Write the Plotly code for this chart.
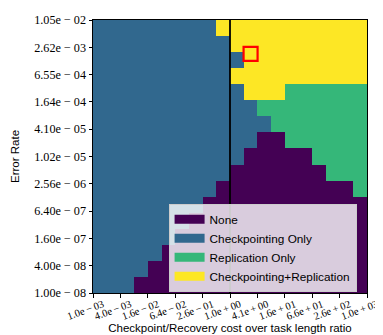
import math
import plotly.graph_objects as go

# ---- data ----
category_names = ["None", "Checkpointing Only", "Replication Only", "Checkpointing+Replication"]
category_colors = ["#440154", "#31688e", "#35b779", "#fde725"]

x_tick_labels = ["1.0e\u2009−\u200903", "4.0e\u2009−\u200903", "1.6e\u2009−\u200902", "6.4e\u2009−\u200902",
                 "2.6e\u2009−\u200901", "1.0e\u2009+\u200900", "4.1e\u2009+\u200900", "1.6e\u2009+\u200901",
                 "6.6e\u2009+\u200901", "2.6e\u2009+\u200902", "1.0e\u2009+\u200903"]
y_tick_labels = ["1.00e − 08", "4.00e − 08", "1.60e − 07", "6.40e − 07", "2.56e − 06", "1.02e − 05",
                 "4.10e − 05", "1.64e − 04", "6.55e − 04", "2.62e − 03", "1.05e − 02"]

# rows listed from top (highest error rate) to bottom; 0=None 1=Ckpt 2=Repl 3=Both
grid_rows_top_down = [
    [1]*9 + [3]*11,
    [1]*10 + [3]*10,
    [1]*11 + [3]*9,
    [1]*10 + [3]*10,
    [1]*11 + [3]*3 + [2]*6,
    [1]*12 + [2]*8,
    [1]*13 + [2]*7,
    [1]*12 + [0]*2 + [2]*6,
    [1]*11 + [0]*5 + [2]*4,
    [1]*10 + [0]*7 + [2]*3,
    [1]*9 + [0]*10 + [2]*1,
    [1]*8 + [0]*12,
    [1]*7 + [0]*13,
    [1]*6 + [0]*14,
    [1]*5 + [0]*15,
    [1]*4 + [0]*16,
    [1]*3 + [0]*17,
]

x_min_value = 1e-3      # ratio at left edge
y_min_value = 1e-8      # error rate at bottom edge
tick_factor = 4.0       # consecutive ticks differ by factor 4
vline_ratio = 1.024     # ratio where the vertical line is drawn (tick 1.0e+00)
marker_ratio = 2.9
marker_error = 1.88e-3

# ---- axes in log2 units ----
def xpos(v):
    return math.log2(v / x_min_value)

def ypos(v):
    return math.log2(v / y_min_value)

n_rows = len(grid_rows_top_down)
n_cols = len(grid_rows_top_down[0])
n_ticks = len(x_tick_labels)
span = math.log2(tick_factor) * (n_ticks - 1)   # 20 log2 units
col_w = span / n_cols
row_h = span / n_rows
x_centers = [(c + 0.5) * col_w for c in range(n_cols)]
y_centers = [(r + 0.5) * row_h for r in range(n_rows)]
z = list(reversed(grid_rows_top_down))
tickvals = [k * math.log2(tick_factor) for k in range(n_ticks)]

colorscale = []
for i, c in enumerate(category_colors):
    colorscale.append([i / 4, c])
    colorscale.append([(i + 1) / 4, c])

fig = go.Figure()
fig.add_trace(go.Heatmap(x=x_centers, y=y_centers, z=z, zmin=-0.5, zmax=3.5,
                         colorscale=colorscale, showscale=False, hoverinfo="skip"))

xv = xpos(vline_ratio)
fig.add_trace(go.Scatter(x=[xv, xv], y=[0, span], mode="lines",
                         line=dict(color="black", width=1.8), showlegend=False, hoverinfo="skip"))

fig.add_trace(go.Scatter(x=[xpos(marker_ratio)], y=[ypos(marker_error)], mode="markers",
                         marker=dict(symbol="square-open", size=14, color="red",
                                     line=dict(width=2.2, color="red")),
                         showlegend=False, hoverinfo="skip"))

for name, col in zip(category_names, category_colors):
    fig.add_trace(go.Scatter(x=[None], y=[None], mode="lines", name=name,
                             line=dict(color=col, width=9)))

title_font = dict(family="Liberation Sans", size=11.5, color="black")
fig.update_xaxes(range=[0, span], tickvals=tickvals, ticktext=x_tick_labels,
                 tickangle=-20, tickfont=dict(family="Liberation Serif", size=10.5, color="black"),
                 ticks="outside", ticklen=3.5,
                 tickcolor="black", showline=True, linecolor="black", linewidth=1,
                 mirror=True, showgrid=False, zeroline=False, ticklabelshift=10,
                 ticklabelstandoff=-3,
                 ticklabeloverflow="allow", automargin=False,
                 title=dict(text="Checkpoint/Recovery cost over task length ratio",
                            font=title_font, standoff=3))
fig.update_yaxes(range=[0, span], tickvals=tickvals, ticktext=y_tick_labels,
                 tickfont=dict(family="Liberation Serif", size=12.2, color="black"),
                 ticks="outside", ticklen=3.5,
                 tickcolor="black", showline=True, linecolor="black", linewidth=1,
                 mirror=True, showgrid=False, zeroline=False, automargin=False,
                 title=dict(text="Error Rate", font=title_font, standoff=12))

fig.update_layout(width=383, height=335, margin=dict(l=85, r=24, t=12, b=50),
                  paper_bgcolor="white", plot_bgcolor="white",
                  legend=dict(x=0.962, y=0.005, xanchor="right", yanchor="bottom",
                              bgcolor="rgba(255,255,255,0.8)", bordercolor="#cccccc",
                              borderwidth=1, font=dict(family="Liberation Sans", size=11.8, color="black"),
                              itemwidth=30, tracegroupgap=0))

fig.write_html("out.html")
